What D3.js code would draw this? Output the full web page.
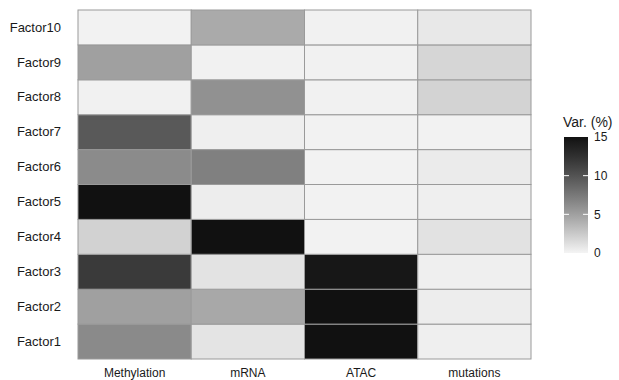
<!DOCTYPE html>
<html><head><meta charset="utf-8">
<script src="https://cdn.jsdelivr.net/npm/d3@7"></script>
<style>body{margin:0;background:#fff}svg{display:block}text{font-family:"Liberation Sans",Arial,sans-serif}</style>
</head><body>
<script>
const views = ["Methylation","mRNA","ATAC","mutations"];
const factors = ["Factor1","Factor2","Factor3","Factor4","Factor5","Factor6","Factor7","Factor8","Factor9","Factor10"];
// variance explained (%) per view, indexed by factor (Factor1..Factor10)
const methylation = [6.4, 5.0, 11.8, 2.0, 15.0, 6.3, 9.6, 0.2, 5.0, 0.1];
const mrna        = [0.9, 4.5, 1.0, 15.0, 0.4, 7.0, 0.3, 5.9, 0.2, 4.4];
const atac        = [15.0, 15.0, 14.6, 0.1, 0.1, 0.1, 0.1, 0.15, 0.15, 0.15];
const mutations   = [0.3, 0.4, 0.3, 1.05, 0.3, 0.5, 0.1, 1.9, 1.75, 0.7];
const legendTicks = [0, 5, 10, 15];

const series = {Methylation: methylation, mRNA: mrna, ATAC: atac, mutations: mutations};
const cells = [];
views.forEach(v => factors.forEach((f, i) => cells.push({view: v, factor: f, value: series[v][i]})));

const W = 619, H = 380;
const svg = d3.select("body").append("svg").attr("width", W).attr("height", H);
const x = d3.scaleBand().domain(views).range([78, 531]);
const y = d3.scaleBand().domain(factors.slice().reverse()).range([10, 359]);
const color = d3.scaleLinear().domain([0, 15]).range(["#f4f4f4", "#111111"]).interpolate(d3.interpolateLab).clamp(true);

svg.append("g").selectAll("rect").data(cells).join("rect")
  .attr("x", d => x(d.view)).attr("y", d => y(d.factor))
  .attr("width", x.bandwidth()).attr("height", y.bandwidth())
  .attr("fill", d => color(d.value))
  .attr("stroke", "#9a9a9a").attr("stroke-width", 1);

const yAxis = svg.append("g").attr("transform", "translate(61,0)")
  .call(d3.axisLeft(y).tickSize(0).tickPadding(0));
yAxis.select(".domain").remove();
yAxis.selectAll("text").attr("font-size", 13).attr("fill", "#1a1a1a");

const xAxis = svg.append("g").attr("transform", "translate(0,368)")
  .call(d3.axisBottom(x).tickSize(0).tickPadding(0));
xAxis.select(".domain").remove();
xAxis.selectAll("text").attr("font-size", 12).attr("fill", "#1a1a1a");

// legend
const lx = 564, lw = 24;
const ly = d3.scaleLinear().domain([0, 15]).range([253, 137]);
const defs = svg.append("defs");
const grad = defs.append("linearGradient").attr("id", "g").attr("x1", 0).attr("y1", 1).attr("x2", 0).attr("y2", 0);
d3.range(0, 15.01, 1).forEach(v => grad.append("stop").attr("offset", v / 15).attr("stop-color", color(v)));
svg.append("rect").attr("x", lx).attr("y", ly(15)).attr("width", lw).attr("height", ly(0) - ly(15)).attr("fill", "url(#g)");
const lt = svg.append("g");
legendTicks.forEach(t => {
  if (t > 0 && t < 15) {
    lt.append("line").attr("x1", lx).attr("x2", lx + 5).attr("y1", ly(t)).attr("y2", ly(t)).attr("stroke", "#fff").attr("stroke-width", 1);
    lt.append("line").attr("x1", lx + lw - 5).attr("x2", lx + lw).attr("y1", ly(t)).attr("y2", ly(t)).attr("stroke", "#fff").attr("stroke-width", 1);
  }
  lt.append("text").attr("x", lx + lw + 6).attr("y", ly(t)).attr("dy", "0.35em").attr("font-size", 12).attr("fill", "#1a1a1a").text(t);
});
svg.append("text").attr("x", 563).attr("y", 127).attr("font-size", 14).attr("fill", "#1a1a1a").text("Var. (%)");
</script>
</body></html>
